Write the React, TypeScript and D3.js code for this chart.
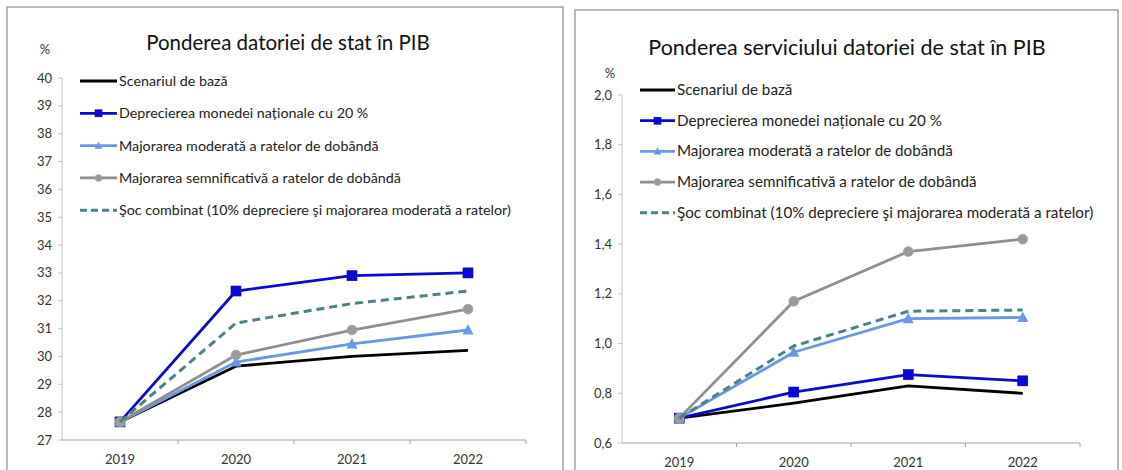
import React from "react";
import * as d3 from "d3";

const years = ["2019", "2020", "2021", "2022"];
const seriesNames = [
  "Scenariul de bază",
  "Deprecierea monedei naționale cu 20 %",
  "Majorarea moderată a ratelor de dobândă",
  "Majorarea semnificativă a ratelor de dobândă",
  "Şoc combinat (10% depreciere şi majorarea moderată a ratelor)",
];

// Left chart: debt / GDP (%)
const debtBase = [27.65, 29.65, 30.0, 30.22];
const debtDeprec = [27.65, 32.35, 32.9, 33.0];
const debtModerate = [27.65, 29.8, 30.45, 30.95];
const debtSignif = [27.65, 30.05, 30.95, 31.7];
const debtCombined = [27.65, 31.2, 31.9, 32.35];
const debtTicks = [27, 28, 29, 30, 31, 32, 33, 34, 35, 36, 37, 38, 39, 40];

// Right chart: debt service / GDP (%)
const servBase = [0.7, 0.76, 0.83, 0.8];
const servDeprec = [0.7, 0.805, 0.875, 0.85];
const servModerate = [0.7, 0.965, 1.1, 1.105];
const servSignif = [0.7, 1.17, 1.37, 1.42];
const servCombined = [0.7, 0.99, 1.13, 1.135];
const servTicks = [0.6, 0.8, 1.0, 1.2, 1.4, 1.6, 1.8, 2.0];

const titles = [
  "Ponderea datoriei de stat în PIB",
  "Ponderea serviciului datoriei de stat în PIB",
];

type Style = { color: string; width: number; dash?: string; marker: "none" | "square" | "triangle" | "circle"; mcolor?: string };
const styles: Style[] = [
  { color: "#000000", width: 2.8, marker: "none" },
  { color: "#0a0acc", width: 2.8, marker: "square", mcolor: "#0a0ad8" },
  { color: "#6a98e6", width: 2.8, marker: "triangle", mcolor: "#6a98e6" },
  { color: "#8f8f8f", width: 2.8, marker: "circle", mcolor: "#9a9a9a" },
  { color: "#4a8387", width: 3, dash: "8,5", marker: "none" },
];

const FONT = "Lato, 'Open Sans', sans-serif";

function Marker({ x, y, s, size }: { x: number; y: number; s: Style; size: number }) {
  if (s.marker === "square")
    return <rect x={x - size / 2} y={y - size / 2} width={size} height={size} fill={s.mcolor} stroke="#0000a0" strokeWidth={0.6} />;
  if (s.marker === "triangle") {
    const h = size;
    return (
      <path
        d={`M${x},${y - h * 0.6}L${x + h * 0.55},${y + h * 0.45}L${x - h * 0.55},${y + h * 0.45}Z`}
        fill={s.mcolor}
      />
    );
  }
  if (s.marker === "circle") return <circle cx={x} cy={y} r={size / 2} fill={s.mcolor} stroke="#aaaaaa" strokeWidth={0.6} />;
  return null;
}

type PanelProps = {
  frame: [number, number, number, number];
  title: string;
  titleX: number;
  titleY: number;
  titleSize: number;
  pctX: number;
  pctY: number;
  xRange: [number, number];
  yRange: [number, number];
  yDomain: [number, number];
  ticks: number[];
  fmt: (v: number) => string;
  series: number[][];
  legendX: number;
  legendY: number;
  legendStep: number;
  legendLen: number;
  legendSize: number;
};

function Panel(p: PanelProps) {
  const x = d3.scaleBand<string>().domain(years).range(p.xRange);
  const y = d3.scaleLinear().domain(p.yDomain).range(p.yRange);
  const cx = (yr: string) => (x(yr) as number) + x.bandwidth() / 2;
  const line = d3
    .line<number>()
    .x((_, i) => cx(years[i]))
    .y((v) => y(v));
  const x0 = p.xRange[0];
  const yb = p.yRange[0];
  return (
    <g>
      <rect x={p.frame[0]} y={p.frame[1]} width={p.frame[2]} height={p.frame[3]} fill="#fff" stroke="#8a8a8a" strokeWidth={1.2} />
      <text x={p.titleX} y={p.titleY} textAnchor="middle" fontSize={p.titleSize} fontFamily={FONT} fill="#111">
        {p.title}
      </text>
      <text x={p.pctX} y={p.pctY} textAnchor="middle" fontSize={13} fontFamily={FONT} fill="#333">
        %
      </text>
      {/* y axis */}
      <line x1={x0} x2={x0} y1={p.yRange[1]} y2={yb} stroke="#c4c4c4" strokeWidth={1} />
      {p.ticks.map((t) => (
        <g key={t}>
          <line x1={x0 - 4} x2={x0} y1={y(t)} y2={y(t)} stroke="#c4c4c4" />
          <text x={x0 - 10} y={y(t) + 4.5} textAnchor="end" fontSize={13} fontFamily={FONT} fill="#333">
            {p.fmt(t)}
          </text>
        </g>
      ))}
      {/* x axis */}
      <line x1={x0} x2={p.xRange[1]} y1={yb} y2={yb} stroke="#a0a0a0" strokeWidth={1} />
      {years.map((yr, i) => (
        <g key={yr}>
          {i > 0 && <line x1={x(yr)} x2={x(yr)} y1={yb} y2={yb + 4} stroke="#a0a0a0" />}
          <text x={cx(yr)} y={yb + 24} textAnchor="middle" fontSize={13} fontFamily={FONT} fill="#333">
            {yr}
          </text>
        </g>
      ))}
      <line x1={p.xRange[1]} x2={p.xRange[1]} y1={yb} y2={yb + 4} stroke="#a0a0a0" />
      {/* series */}
      {p.series.map((vals, si) => {
        const s = styles[si];
        return (
          <g key={si}>
            <path d={line(vals) || ""} fill="none" stroke={s.color} strokeWidth={s.width} strokeDasharray={s.dash} strokeLinejoin="round" />
            {vals.map((v, i) => (
              <Marker key={i} x={cx(years[i])} y={y(v)} s={s} size={10} />
            ))}
          </g>
        );
      })}
      {/* legend */}
      {seriesNames.map((n, i) => {
        const s = styles[i];
        const ly = p.legendY + i * p.legendStep;
        return (
          <g key={n}>
            <line x1={p.legendX} x2={p.legendX + p.legendLen} y1={ly} y2={ly} stroke={s.color} strokeWidth={s.width} strokeDasharray={s.dash ? "7,4" : undefined} />
            <Marker x={p.legendX + p.legendLen / 2} y={ly} s={s} size={7} />
            <text x={p.legendX + p.legendLen + 2} y={ly + 5} fontSize={p.legendSize} fontFamily={FONT} fill="#222">
              {n}
            </text>
          </g>
        );
      })}
    </g>
  );
}

export default function App() {
  return (
    <svg width={1122} height={470} style={{ position: "absolute", left: 0, top: 0, background: "#fff" }}>
      <rect x={0} y={0} width={1122} height={470} fill="#fff" />
      <Panel
        frame={[7, 7, 556, 480]}
        title={titles[0]}
        titleX={288}
        titleY={50}
        titleSize={20.5}
        pctX={45}
        pctY={54}
        xRange={[62, 526]}
        yRange={[440, 78]}
        yDomain={[27, 40]}
        ticks={debtTicks}
        fmt={(v) => d3.format("d")(v)}
        series={[debtBase, debtDeprec, debtModerate, debtSignif, debtCombined]}
        legendX={80}
        legendY={81}
        legendStep={32.3}
        legendLen={37}
        legendSize={14.3}
      />
      <Panel
        frame={[575, 10, 543, 480]}
        title={titles[1]}
        titleX={847}
        titleY={55}
        titleSize={21.5}
        pctX={610}
        pctY={78}
        xRange={[622, 1080]}
        yRange={[443, 95]}
        yDomain={[0.6, 2.0]}
        ticks={servTicks}
        fmt={(v) => d3.format(".1f")(v).replace(".", ",")}
        series={[servBase, servDeprec, servModerate, servSignif, servCombined]}
        legendX={640}
        legendY={90}
        legendStep={30.7}
        legendLen={35}
        legendSize={15.2}
      />
    </svg>
  );
}
